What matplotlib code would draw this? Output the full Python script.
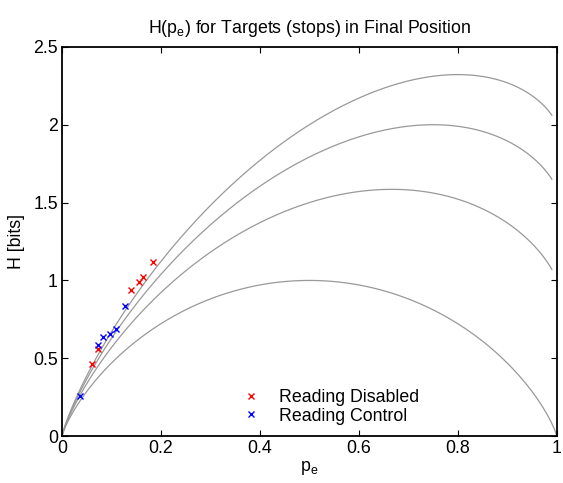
import numpy as np
import matplotlib
matplotlib.use("Agg")
import matplotlib.pyplot as plt

plt.rcParams["font.family"] = ["Liberation Sans", "DejaVu Sans"]
plt.rcParams["font.size"] = 12.8

# number of alternatives for each Fano curve
alphabet_sizes = [2, 3, 4, 5]

# measured points (p_e, H)
disabled_pe = [0.184, 0.164, 0.155, 0.140, 0.073, 0.061]
disabled_h = [1.118, 1.022, 0.990, 0.938, 0.561, 0.461]
control_pe = [0.127, 0.110, 0.097, 0.083, 0.073, 0.036]
control_h = [0.838, 0.686, 0.658, 0.638, 0.583, 0.261]


def fano(p, m):
    with np.errstate(divide="ignore", invalid="ignore"):
        h = -p * np.log2(p) - (1 - p) * np.log2(1 - p)
    h = np.nan_to_num(h)
    return h + p * np.log2(m - 1)


fig = plt.figure(figsize=(5.63, 4.83), dpi=100)
ax = fig.add_axes([0.110, 0.097, 0.879, 0.806])

for m in alphabet_sizes:
    # curves computed on a 0.01 grid; only the binary one reaches p = 1
    p = np.linspace(0, 1 if m == 2 else 0.99, 400)
    ax.plot(p, fano(p, m), color="0.6", linewidth=0.9)

ax.plot(disabled_pe, disabled_h, "x", color="red", markersize=4, mew=1.0,
        label="Reading Disabled")
ax.plot(control_pe, control_h, "x", color="blue", markersize=4, mew=1.0,
        label="Reading Control")

ax.set_xlim(0, 1)
ax.set_ylim(0, 2.5)
ax.set_xticks([0, 0.2, 0.4, 0.6, 0.8, 1])
ax.set_xticklabels(["0", "0.2", "0.4", "0.6", "0.8", "1"])
ax.set_yticks([0, 0.5, 1, 1.5, 2, 2.5])
ax.set_yticklabels(["0", "0.5", "1", "1.5", "2", "2.5"])
ax.tick_params(direction="in", length=4, width=0.8, top=True, right=True, pad=3)
for s in ax.spines.values():
    s.set_linewidth(1.3)

ax.set_xlabel("p$_\\mathregular{e}$", labelpad=1)
ax.set_ylabel("H [bits]", labelpad=6)
ax.set_title("H(p$_\\mathregular{e}$) for Targets (stops) in Final Position",
             fontsize=12.8, pad=10)

ax.legend(loc="lower left", bbox_to_anchor=(0.33, 0.0), frameon=False,
          handlelength=1.6, handletextpad=0.75, borderaxespad=0.25,
          labelspacing=0.1)

plt.savefig("out.png", dpi=100)
